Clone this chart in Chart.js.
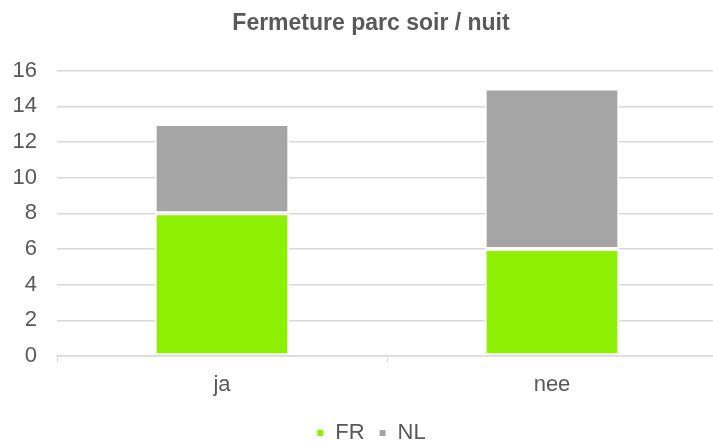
<!DOCTYPE html>
<html>
<head>
<meta charset="utf-8">
<script src="https://cdn.jsdelivr.net/npm/chart.js@4/dist/chart.umd.min.js"></script>
<style>
html,body{margin:0;padding:0;background:#fff;overflow:hidden;}
#wrap{width:713px;height:441px;overflow:hidden;position:relative;}
canvas{position:absolute;left:0;top:0;}
</style>
</head>
<body>
<div id="wrap"><canvas id="c" width="717" height="454"></canvas></div>
<script>
const categories = ["ja", "nee"];
const frValues = [8, 6];
const nlValues = [5, 9];
const seriesNames = ["FR", "NL"];
const titleText = "Fermeture parc soir / nuit";

const FONT = "'Liberation Sans', Arial, sans-serif";
const TEXT = "#595959";

// widen the y-axis box to the canvas edge after layout so its labels are not clipped
const widenYAxis = {
  id: 'widenYAxis',
  afterLayout(chart) {
    const y = chart.scales.y;
    y.left = 0;
    y.width = y.right - y.left;
  }
};

new Chart(document.getElementById('c'), {
  type: 'bar',
  plugins: [widenYAxis],
  data: {
    labels: categories,
    datasets: [
      {label: seriesNames[0], data: frValues, backgroundColor: '#8CF000', borderColor: '#ffffff', borderWidth: 2, borderSkipped: false, categoryPercentage: 0.8, barPercentage: 0.51},
      {label: seriesNames[1], data: nlValues, backgroundColor: '#A5A5A5', borderColor: '#ffffff', borderWidth: 2, borderSkipped: false, categoryPercentage: 0.8, barPercentage: 0.51}
    ]
  },
  options: {
    responsive: false,
    animation: false,
    devicePixelRatio: 1,
    layout: {padding: {left: 25, right: 0, top: 0, bottom: 0}},
    plugins: {
      title: {display: true, text: titleText, color: TEXT, font: {family: FONT, size: 23, weight: 'bold'}, padding: {top: 10, bottom: 33}},
      legend: {position: 'bottom', labels: {color: TEXT, font: {family: FONT, size: 22}, usePointStyle: true, pointStyle: 'rect', boxWidth: 8, boxHeight: 8, padding: 14}},
      tooltip: {enabled: false}
    },
    scales: {
      x: {
        stacked: true,
        afterFit: (s) => { s.height = 52; },
        grid: {display: true, drawOnChartArea: false, drawTicks: true, tickLength: 6, offset: true, color: '#d9d9d9'},
        border: {display: true, color: '#d9d9d9', width: 1.5},
        ticks: {color: TEXT, font: {family: FONT, size: 22}, padding: 10}
      },
      y: {
        stacked: true,
        min: 0, max: 16,
        afterFit: (s) => { s.width = 32; },
        ticks: {stepSize: 2, color: TEXT, font: {family: FONT, size: 22}, padding: 20},
        grid: {color: '#d9d9d9', lineWidth: 1.5, drawTicks: false},
        border: {display: false}
      }
    }
  }
});
</script>
</body>
</html>
